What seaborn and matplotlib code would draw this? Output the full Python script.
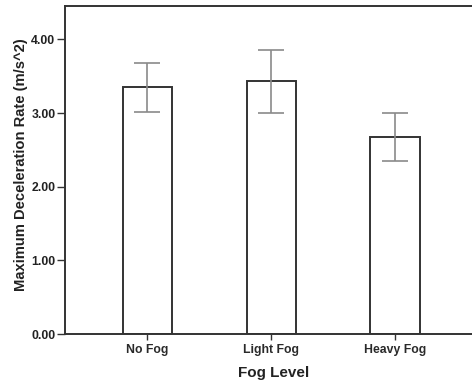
import matplotlib
matplotlib.use("Agg")
import matplotlib.pyplot as plt
import seaborn as sns
import pandas as pd
import numpy as np

categories = ["No Fog", "Light Fog", "Heavy Fog"]
means = [3.35, 3.43, 2.68]
ci_low = [3.02, 3.00, 2.35]
ci_high = [3.68, 3.85, 3.00]
yticks = [0.0, 1.0, 2.0, 3.0, 4.0]

sns.set_style("white")
plt.rcParams["font.family"] = ["Liberation Sans", "DejaVu Sans"]

df = pd.DataFrame({"Fog Level": categories, "rate": means})

fig = plt.figure(figsize=(4.72, 3.88), dpi=100)
ax = fig.add_axes([0.138, 0.139, 0.87, 0.845])

sns.barplot(data=df, x="Fog Level", y="rate", order=categories,
            color="white", edgecolor="#333333", linewidth=1.4,
            width=0.4, errorbar=None, ax=ax)

m = np.array(means)
yerr = np.vstack([m - np.array(ci_low), np.array(ci_high) - m])
ax.errorbar(np.arange(len(categories)), m, yerr=yerr, fmt="none",
            ecolor="#8a8a8a", elinewidth=1.2, capsize=9.2, capthick=1.2,
            zorder=4)

ax.set_ylim(0, 4.45)
ax.set_xlim(-0.664, 2.65)
ax.set_yticks(yticks)
ax.set_yticklabels([f"{v:.2f}" for v in yticks], fontsize=8.8,
                   fontweight="bold", color="#222222")
ax.set_xticks(range(len(categories)))
ax.set_xticklabels(categories, fontsize=8.8, fontweight="bold", color="#2a2a2a")

ax.set_xlabel("Fog Level", fontsize=11, fontweight="bold", color="#222222", labelpad=7)
ax.set_ylabel("Maximum Deceleration Rate (m/s^2)", fontsize=10.6, fontweight="bold",
              color="#222222", labelpad=6)
ax.yaxis.set_label_coords(-0.091, 0.518)
ax.xaxis.label.set_x(0.508)

for side in ["left", "bottom", "top"]:
    ax.spines[side].set_visible(True)
    ax.spines[side].set_color("#333333")
    ax.spines[side].set_linewidth(1.4)
ax.spines["right"].set_visible(False)

ax.tick_params(axis="y", left=True, direction="out", length=6, width=1.0,
               color="#333333", pad=1)
ax.tick_params(axis="x", bottom=True, direction="out", length=4, width=1.0,
               color="#333333", pad=3)

fig.savefig("out.png", dpi=100, facecolor="white")
